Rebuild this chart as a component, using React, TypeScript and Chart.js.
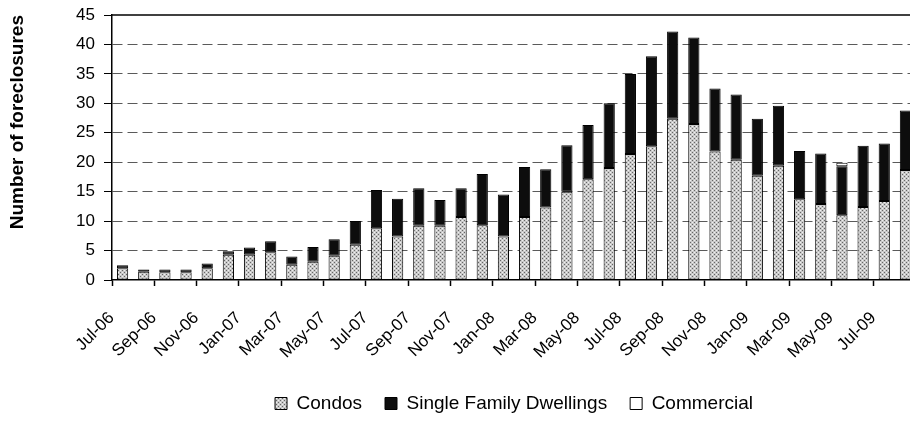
import React, { useEffect, useRef } from 'react';
import { Chart, registerables } from 'chart.js';

Chart.register(...registerables);

const months = [
  'Jul-06', 'Aug-06', 'Sep-06', 'Oct-06', 'Nov-06', 'Dec-06',
  'Jan-07', 'Feb-07', 'Mar-07', 'Apr-07', 'May-07', 'Jun-07',
  'Jul-07', 'Aug-07', 'Sep-07', 'Oct-07', 'Nov-07', 'Dec-07',
  'Jan-08', 'Feb-08', 'Mar-08', 'Apr-08', 'May-08', 'Jun-08',
  'Jul-08', 'Aug-08', 'Sep-08', 'Oct-08', 'Nov-08', 'Dec-08',
  'Jan-09', 'Feb-09', 'Mar-09', 'Apr-09', 'May-09', 'Jun-09',
  'Jul-09', 'Aug-09',
];

const condos = [
  2.0, 1.4, 1.3, 1.3, 2.0, 4.3,
  4.3, 4.7, 2.6, 3.1, 4.1, 6.0,
  8.8, 7.4, 9.2, 9.2, 10.7, 9.3,
  7.4, 10.7, 12.3, 15.0, 17.1, 19.0,
  21.4, 22.7, 27.4, 26.5, 21.8, 20.4,
  17.7, 19.4, 13.7, 12.9, 11.0, 12.4,
  13.4, 18.7,
];

const singleFamily = [
  0.5, 0.4, 0.5, 0.5, 0.8, 0.6,
  1.2, 1.9, 1.4, 2.5, 2.8, 4.0,
  6.5, 6.4, 6.4, 4.4, 4.9, 8.7,
  7.1, 8.5, 6.5, 7.9, 9.2, 11.0,
  13.6, 15.3, 14.8, 14.7, 10.7, 11.1,
  9.7, 10.2, 8.2, 8.6, 8.3, 10.4,
  9.8, 10.1,
];

const commercial: (number | null)[] = [
  null, null, null, null, null, null,
  null, null, null, null, null, null,
  null, null, null, null, null, null,
  null, null, null, null, null, null,
  null, null, null, null, null, null,
  null, null, null, null, 0.6, null,
  null, null,
];

const yMin = 0;
const yMax = 45;
const yStep = 5;

const FONT = '"Liberation Sans", Arial, sans-serif';
const W = 1028;
const H = 423;

function makeCondoPattern(): CanvasPattern | string {
  const c = document.createElement('canvas');
  c.width = 4;
  c.height = 4;
  const g = c.getContext('2d');
  if (!g) return '#b8b8b8';
  g.fillStyle = '#c8c8c8';
  g.fillRect(0, 0, 4, 4);
  g.fillStyle = '#666666';
  g.fillRect(0, 0, 1, 1);
  g.fillRect(2, 2, 1, 1);
  g.fillStyle = '#f0f0f0';
  g.fillRect(2, 0, 1, 1);
  g.fillRect(0, 2, 1, 1);
  return g.createPattern(c, 'repeat') || '#b8b8b8';
}

const topBorder = {
  id: 'topBorder',
  afterDatasetsDraw(chart: any) {
    const { ctx, chartArea } = chart;
    ctx.save();
    ctx.strokeStyle = '#000';
    ctx.lineWidth = 1.5;
    ctx.beginPath();
    ctx.moveTo(chartArea.left, chartArea.top);
    ctx.lineTo(chartArea.right, chartArea.top);
    ctx.stroke();
    ctx.restore();
  },
};

export default function App() {
  const canvasRef = useRef<HTMLCanvasElement | null>(null);

  useEffect(() => {
    const canvas = canvasRef.current;
    if (!canvas) return;
    Chart.defaults.font.family = FONT;
    Chart.defaults.color = '#000';
    const pattern = makeCondoPattern();

    const chart = new Chart(canvas, {
      type: 'bar',
      data: {
        labels: months,
        datasets: [
          {
            label: 'Condos',
            data: condos,
            backgroundColor: pattern as any,
            borderColor: '#000',
            borderWidth: 1,
            borderSkipped: false,
            stack: 's',
          },
          {
            label: 'Single Family Dwellings',
            data: singleFamily,
            backgroundColor: '#0d0d0d',
            borderColor: '#000',
            borderWidth: 1,
            borderSkipped: false,
            stack: 's',
          },
          {
            label: 'Commercial',
            data: commercial,
            backgroundColor: '#ffffff',
            borderColor: '#000',
            borderWidth: 1,
            borderSkipped: false,
            stack: 's',
          },
        ],
      },
      options: {
        responsive: false,
        devicePixelRatio: 1,
        animation: false,
        layout: { padding: { top: 15, left: 0, right: 0, bottom: 0 } },
        datasets: {
          bar: { barPercentage: 0.53, categoryPercentage: 1 },
        },
        plugins: {
          tooltip: { enabled: false },
          legend: {
            position: 'bottom',
            labels: {
              font: { size: 19, family: FONT },
              color: '#000',
              boxWidth: 12,
              boxHeight: 12,
              padding: 23,
            },
          },
        },
        scales: {
          x: {
            stacked: true,
            offset: true,
            afterFit: (s: any) => {
              s.height = 91;
            },
            grid: {
              display: true,
              drawOnChartArea: false,
              drawTicks: true,
              offset: true,
              tickLength: 6,
              tickWidth: 1.5,
              tickColor: (c: any) => (c.index % 2 === 0 ? '#000' : 'rgba(0,0,0,0)'),
              color: 'rgba(0,0,0,0)',
            },
            border: { display: true, color: '#000', width: 1.5 },
            ticks: {
              autoSkip: false,
              minRotation: 45,
              maxRotation: 45,
              padding: 22,
              labelOffset: -11,
              font: { size: 17, family: FONT },
              color: '#000',
              callback: function (this: any, value: any, index: number) {
                return index % 2 === 0 ? this.getLabelForValue(value) : '';
              },
            },
          },
          y: {
            stacked: true,
            min: yMin,
            max: yMax,
            afterFit: (s: any) => {
              s.width = 112;
              s.paddingTop = 0;
              s.paddingBottom = 0;
            },
            ticks: {
              stepSize: yStep,
              padding: 9,
              font: { size: 17, family: FONT },
              color: '#000',
            },
            grid: {
              color: (c: any) =>
                c.tick && (c.tick.value === yMin || c.tick.value === yMax) ? 'rgba(0,0,0,0)' : '#5a5a5a',
              lineWidth: 1,
              tickLength: 8,
              tickColor: '#000',
              tickWidth: 1,
            },
            border: { display: true, color: '#000', width: 1.5, dash: [10, 5] },
            title: {
              display: true,
              text: 'Number of foreclosures',
              align: 'end',
              font: { size: 19, weight: 'bold', family: FONT },
              color: '#000',
              padding: { top: 6, bottom: 0 },
            },
          },
          yRight: {
            position: 'right',
            display: true,
            min: 0,
            max: 1,
            afterFit: (s: any) => {
              s.width = 112;
              s.paddingTop = 0;
              s.paddingBottom = 0;
            },
            ticks: { display: false },
            grid: { display: false },
            border: { display: false },
          },
        },
      },
      plugins: [topBorder],
    } as any);

    return () => chart.destroy();
  }, []);

  return (
    <div
      style={{
        position: 'absolute',
        left: 0,
        top: 0,
        width: 910,
        height: 423,
        overflow: 'hidden',
        background: '#fff',
      }}
    >
      <canvas ref={canvasRef} width={W} height={H} style={{ width: W, height: H, display: 'block' }} />
    </div>
  );
}
